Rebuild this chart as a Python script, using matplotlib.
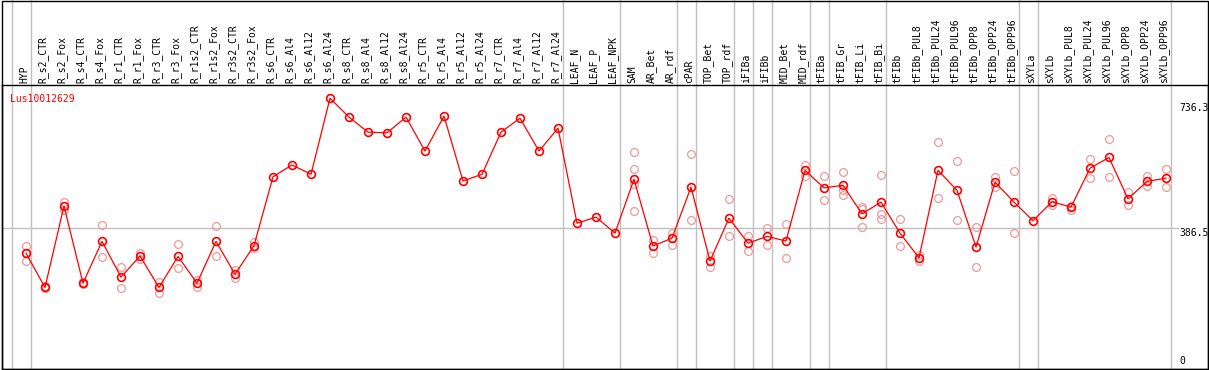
import matplotlib.pyplot as plt
from matplotlib.patches import Rectangle

# sample names, one column each
samples = ["HYP", "R_s2_CTR", "R_s2_Fox", "R_s4_CTR", "R_s4_Fox", "R_r1_CTR", "R_r1_Fox",
           "R_r3_CTR", "R_r3_Fox", "R_r1s2_CTR", "R_r1s2_Fox", "R_r3s2_CTR", "R_r3s2_Fox",
           "R_s6_CTR", "R_s6_Al4", "R_s6_Al12", "R_s6_Al24", "R_s8_CTR", "R_s8_Al4",
           "R_s8_Al12", "R_s8_Al24", "R_r5_CTR", "R_r5_Al4", "R_r5_Al12", "R_r5_Al24",
           "R_r7_CTR", "R_r7_Al4", "R_r7_Al12", "R_r7_Al24", "LEAF_N", "LEAF_P", "LEAF_NPK",
           "SAM", "AR_Bet", "AR_rdf", "cPAR", "TOP_Bet", "TOP_rdf", "iFIBa", "iFIBb",
           "MID_Bet", "MID_rdf", "tFIBa", "tFIB_Gr", "tFIB_Li", "tFIB_Bi", "tFIBb",
           "tFIBb_PUL8", "tFIBb_PUL24", "tFIBb_PUL96", "tFIBb_OPP8", "tFIBb_OPP24",
           "tFIBb_OPP96", "sXYLa", "sXYLb", "sXYLb_PUL8", "sXYLb_PUL24", "sXYLb_PUL96",
           "sXYLb_OPP8", "sXYLb_OPP24", "sXYLb_OPP96"]

# mean expression per sample
means = [316, 220, 448, 232, 349, 249, 308, 220, 307, 232, 349, 257, 337,
         530, 563, 537, 750, 697, 655, 653, 697, 602, 700, 518, 537,
         655, 694, 602, 666, 400, 417, 372,
         523, 336, 358, 501, 294, 414, 344, 363, 350, 548,
         499, 506, 426, 459, 372, 303, 548, 492, 333, 515, 459,
         407, 460, 445, 554, 584, 468, 517, 526]

# individual replicates
replicates = [[336, 316, 293], [218, 223], [459, 438], [229, 234], [395, 305],
              [277, 218], [317, 299], [236, 205], [341, 274], [241, 222],
              [391, 307], [269, 246], [347, 331],
              [], [], [], [], [], [], [], [], [], [], [], [], [], [], [], [],
              [], [], [],
              [599, 551, 509, 434], [353, 316], [373, 339], [593, 409], [308, 278],
              [467, 363], [363, 323], [387, 340], [397, 303], [564, 532],
              [532, 464], [543, 493, 478], [446, 441, 389], [534, 425, 412],
              [411, 335], [311, 293], [627, 470], [573, 408], [389, 277],
              [528, 502], [546, 372],
              [], [470, 451], [448, 437], [581, 526], [636, 529], [488, 450],
              [533, 505], [551, 501]]

# columns after which a group separator is drawn
group_ends = [-1, 0, 28, 31, 34, 35, 37, 38, 39, 41, 42, 45, 52, 53, 60]
y_marks = [736.3, 386.5, 0]
gene = "Lus10012629"

W, H = 1209, 370
fig = plt.figure(figsize=(W / 100, H / 100), dpi=100)
x0, x1, y_top, y_bot = 2, 1207.5, 85, 369
ax = fig.add_axes([x0 / W, (H - y_bot) / H, (x1 - x0) / W, (y_bot - y_top) / H])

red = "#ff0000"
pink = "#ee9a9a"
grey = "#c0c0c0"
font = dict(family="DejaVu Sans Mono", fontsize=7)

xs = list(range(len(samples)))
for i, reps in enumerate(replicates):
    if reps:
        ax.plot([i] * len(reps), reps, "o", ms=5.6, mfc="none", mec=pink, mew=0.9, zorder=3)
ax.plot(xs, means, "-", color=red, lw=0.9, zorder=4)
ax.plot(xs, means, "o", ms=5.6, mfc="none", mec=red, mew=1.2, zorder=5)

ax.set_xlim(-24 / 19, (x1 - 26) / 19)
ax.set_ylim(-8.4, 787)
ax.set_xticks([])
ax.set_yticks([])
for s in ax.spines.values():
    s.set_linewidth(1.0)

# separators run through the header too
top_frac = 1 + y_top / (y_bot - y_top)
for g in group_ends:
    ax.axvline(g + 5 / 19, ymin=0, ymax=top_frac, color=grey, lw=1.0, clip_on=False, zorder=1)

# reference line and right-hand value labels
ax.axhline(386.5, xmin=0, xmax=(1178 - x0) / (x1 - x0), color=grey, lw=1.0, zorder=1)
lab_x = (1179 - x0) / (x1 - x0)
for v in y_marks:
    ax.text(lab_x, v, f"{v:g}", transform=ax.get_yaxis_transform(),
            ha="left", va="bottom" if v == 0 else "top", color="black", **font)

for i, name in enumerate(samples):
    ax.annotate(name, xy=(i, 1), xycoords=("data", "axes fraction"), xytext=(-1.5, 1.5),
                textcoords="offset points", rotation=90, ha="center", va="bottom", **font)

ax.text((10 - x0) / (x1 - x0), 1 - 9 / (y_bot - y_top), gene, transform=ax.transAxes,
        ha="left", va="top", color=red, **font)

fig.add_artist(Rectangle((x0 / W, (H - y_bot) / H), (x1 - x0) / W, (y_bot - 0.5) / H,
                         transform=fig.transFigure, fill=False, ec="black", lw=1.0))

fig.savefig("out.png", dpi=100)
